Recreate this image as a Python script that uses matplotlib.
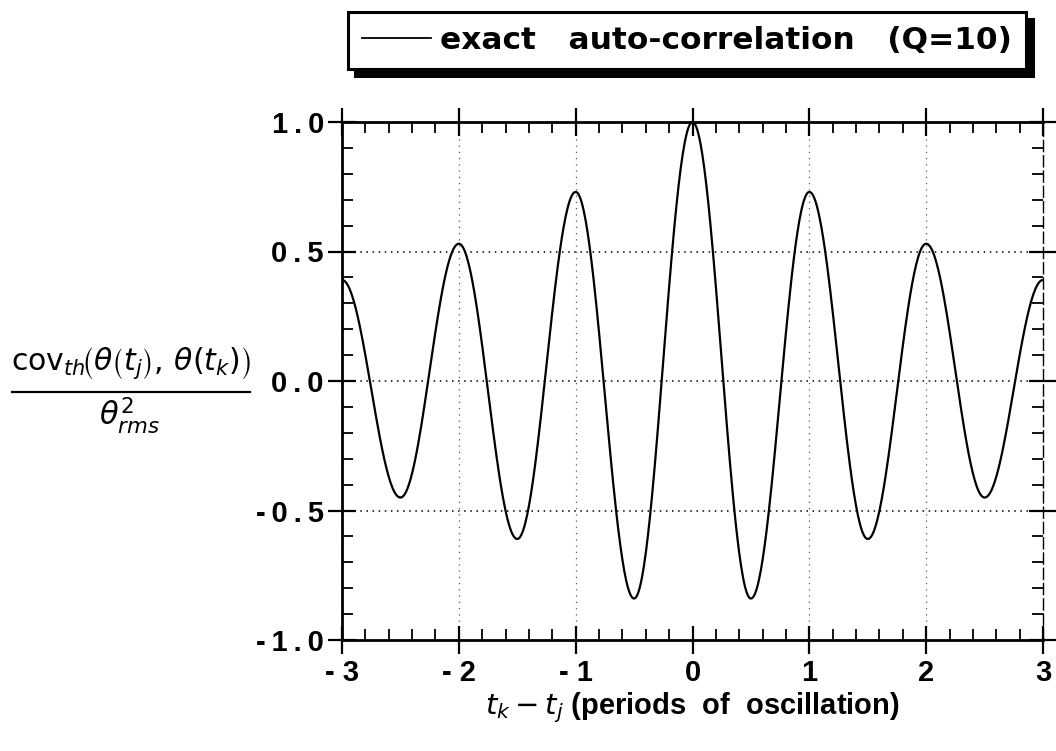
import matplotlib
matplotlib.use("Agg")
import matplotlib.pyplot as plt
from matplotlib.lines import Line2D
from matplotlib.ticker import MultipleLocator, FixedLocator
import numpy as np

plt.rcParams['font.family'] = ['Liberation Sans', 'DejaVu Sans']
plt.rcParams['mathtext.fontset'] = 'dejavusans'

# extrema of the normalised auto-correlation, every half period
lag_extrema = [-3.0, -2.5, -2.0, -1.5, -1.0, -0.5, 0.0, 0.5, 1.0, 1.5, 2.0, 2.5, 3.0]
corr_extrema = [0.39, -0.45, 0.53, -0.61, 0.73, -0.84, 1.0, -0.84, 0.73, -0.61, 0.53, -0.45, 0.39]

xticks = [-3, -2, -1, 0, 1, 2, 3]
xticklabels = ['- 3', '- 2', '- 1', '0', '1', '2', '3']
yticks = [-1.0, -0.5, 0.0, 0.5, 1.0]
yticklabels = ['-\u20091\u2009.\u20090', '-\u20090\u2009.\u20095', '0\u2009.\u20090',
               '0\u2009.\u20095', '1\u2009.\u20090']

# smooth half-cosine arcs between successive extrema
xs, ys = [], []
for t0, t1, a, b in zip(lag_extrema[:-1], lag_extrema[1:], corr_extrema[:-1], corr_extrema[1:]):
    s = np.linspace(0, 1, 60)
    xs.append(t0 + s * (t1 - t0))
    ys.append((a + b) / 2 + (a - b) / 2 * np.cos(np.pi * s))
xs = np.concatenate(xs)
ys = np.concatenate(ys)

fig = plt.figure(figsize=(10.56, 7.51), dpi=100)
ax = fig.add_axes([342 / 1056, 1 - 640 / 751, (1043 - 342) / 1056, (640 - 122) / 751])

ax.plot(xs, ys, color='black', lw=1.6, label='exact   auto-correlation   (Q=10)')

ax.set_xlim(-3, 3)
ax.set_ylim(-1, 1)

# dotted grid at the labelled values
for y in [-0.5, 0.0, 0.5]:
    ax.axhline(y, color='black', lw=1.1, ls=(0, (1, 3)), zorder=0)
for x in [-2, -1, 1, 2]:
    ax.axvline(x, color='0.35', lw=0.9, ls=(0, (1, 4)), zorder=0)

ax.xaxis.set_major_locator(FixedLocator(xticks))
ax.set_xticklabels(xticklabels)
ax.xaxis.set_minor_locator(MultipleLocator(0.2))
ax.yaxis.set_major_locator(FixedLocator(yticks))
ax.set_yticklabels(yticklabels)
ax.yaxis.set_minor_locator(MultipleLocator(0.1))

ax.tick_params(which='major', direction='inout', length=20, width=1.6,
               top=True, right=True, labelsize=21)
ax.tick_params(axis='y', which='major', pad=3)
ax.tick_params(axis='x', which='major', pad=4)
ax.tick_params(which='minor', direction='in', length=8, width=1.3,
               top=True, right=True)
for lab in ax.get_xticklabels() + ax.get_yticklabels():
    lab.set_fontweight('bold')

for side in ['left', 'bottom', 'top']:
    ax.spines[side].set_linewidth(2.0)
ax.spines['right'].set_linewidth(1.0)
ax.spines['right'].set_linestyle((0, (8, 3)))

ax.set_xlabel(r'$t_k - t_j$ (periods  of  oscillation)', fontsize=21,
              fontweight='bold', labelpad=2)

# y label written as a stacked fraction
fig.text(131 / 1056, 1 - 364 / 751,
         r'$\mathrm{cov}_{th}\!\left(\theta\left(t_j\right),\,\theta\left(t_k\right)\right)$',
         fontsize=21.5, ha='center', va='center')
fig.add_artist(Line2D([12 / 1056, 250 / 1056], [1 - 392 / 751, 1 - 392 / 751],
                      color='black', lw=1.6, transform=fig.transFigure))
fig.text(129 / 1056, 1 - 415 / 751, r'$\theta_{rms}^2$',
         fontsize=22, ha='center', va='center')

leg = ax.legend(loc='upper left', bbox_to_anchor=(348 / 1056, 1 - 12 / 751),
                bbox_transform=fig.transFigure, borderaxespad=0, fancybox=False,
                framealpha=1, edgecolor='black', handlelength=2.2, handletextpad=0.3,
                borderpad=0.45,
                prop={'family': 'DejaVu Sans', 'size': 22.5, 'weight': 'bold'},
                shadow={'ox': 5, 'oy': -5, 'facecolor': 'black', 'edgecolor': 'black', 'alpha': 1})
leg.get_frame().set_linewidth(2.2)
leg.get_lines()[0].set_linewidth(1.3)

fig.savefig('out.png', dpi=100)
